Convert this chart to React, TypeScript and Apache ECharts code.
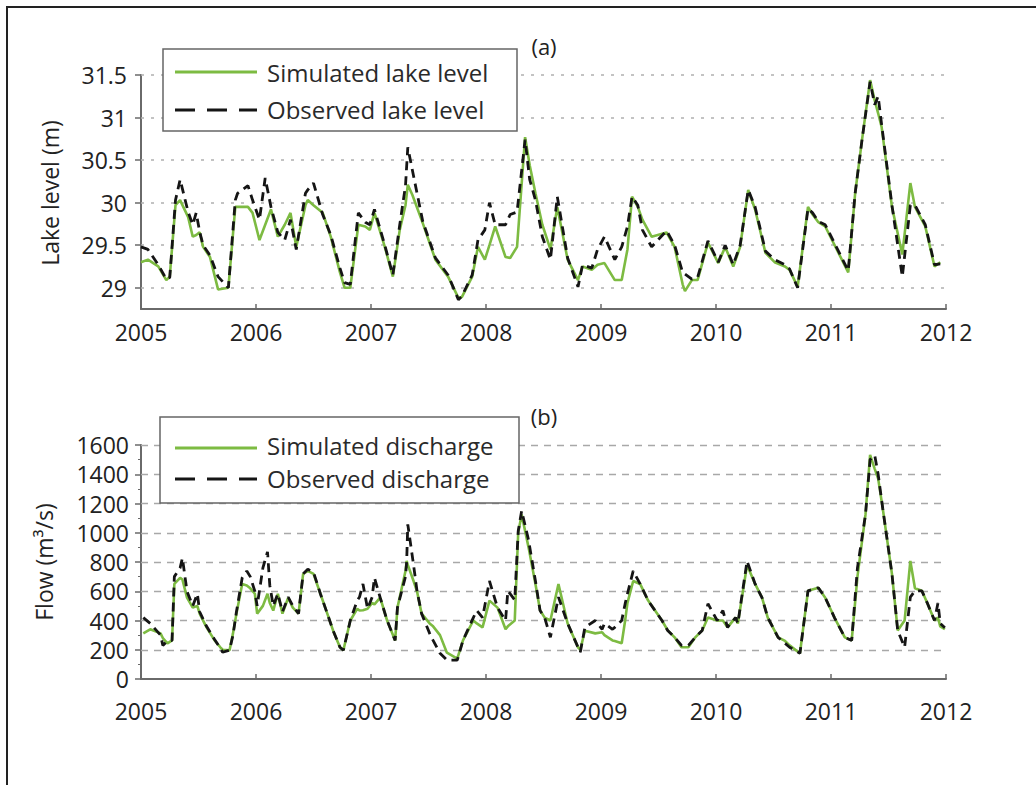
import React, { useEffect, useRef } from "react";
import * as echarts from "echarts";

// ---------- Panel (a): lake level ----------
const levelDates = [
  2005.0, 2005.06, 2005.15, 2005.22, 2005.25, 2005.3, 2005.34, 2005.41, 2005.45, 2005.48,
  2005.51, 2005.54, 2005.6, 2005.67, 2005.76, 2005.82, 2005.84, 2005.93, 2005.97, 2006.03,
  2006.08, 2006.13, 2006.19, 2006.25, 2006.3, 2006.35, 2006.43, 2006.45, 2006.5, 2006.58,
  2006.65, 2006.73, 2006.77, 2006.82, 2006.89, 2006.95, 2006.99, 2007.03, 2007.12, 2007.19,
  2007.25, 2007.3, 2007.32, 2007.36, 2007.45, 2007.56, 2007.67, 2007.76, 2007.79, 2007.88,
  2007.93, 2007.99, 2008.03, 2008.08, 2008.17, 2008.21, 2008.27, 2008.34, 2008.38, 2008.43,
  2008.49, 2008.56, 2008.62, 2008.71, 2008.8, 2008.84, 2008.92, 2008.97, 2009.03, 2009.12,
  2009.18, 2009.23, 2009.27, 2009.32, 2009.36, 2009.44, 2009.57, 2009.64, 2009.71, 2009.73,
  2009.79, 2009.84, 2009.93, 2010.02, 2010.08, 2010.15, 2010.21, 2010.28, 2010.34, 2010.43,
  2010.51, 2010.6, 2010.64, 2010.71, 2010.8, 2010.84, 2010.89, 2010.95, 2011.15, 2011.21,
  2011.27, 2011.34, 2011.38, 2011.41, 2011.44, 2011.53, 2011.62, 2011.69, 2011.73, 2011.82,
  2011.9, 2011.95,
];
const simLevel = [
  29.3, 29.33, 29.25, 29.09, 29.13, 29.97, 30.03, 29.83, 29.6, 29.62,
  29.65, 29.48, 29.36, 28.98, 29.0, 29.95, 29.95, 29.95, 29.88, 29.56,
  29.74, 29.92, 29.6, 29.74, 29.88, 29.48, 29.97, 30.03, 29.97, 29.88,
  29.6, 29.18, 29.0, 29.0, 29.74, 29.72, 29.68, 29.88, 29.48, 29.13,
  29.68, 29.97, 30.21, 30.09, 29.76, 29.33, 29.13, 28.88, 28.89, 29.13,
  29.48, 29.33, 29.5, 29.72, 29.36, 29.35, 29.48, 30.77, 30.44, 30.11,
  29.74, 29.45, 29.95, 29.33, 29.09, 29.25, 29.21, 29.27, 29.29, 29.09,
  29.09, 29.45, 30.07, 29.95, 29.8, 29.6, 29.65, 29.48, 29.04, 28.96,
  29.09, 29.09, 29.53, 29.29, 29.48, 29.25, 29.48, 30.15, 29.92, 29.41,
  29.3, 29.25, 29.21, 29.01, 29.95, 29.86, 29.77, 29.72, 29.18, 30.11,
  30.74, 31.44, 31.2, 31.05, 30.89, 29.95, 29.39, 30.23, 29.95, 29.72,
  29.25, 29.3,
];
const obsLevel = [
  29.48, 29.45, 29.27, 29.1, 29.12, 30.03, 30.27, 29.89, 29.74, 29.88,
  29.66, 29.5, 29.38, 29.13, 29.0, 30.03, 30.11, 30.2, 30.03, 29.8,
  30.29, 29.95, 29.65, 29.56, 29.8, 29.45, 30.11, 30.15, 30.23, 29.86,
  29.62, 29.23, 29.06, 29.04, 29.88, 29.77, 29.74, 29.92, 29.5, 29.15,
  29.74, 30.2, 30.65, 30.38, 29.78, 29.35, 29.15, 28.86, 28.9, 29.15,
  29.56, 29.68, 30.0, 29.74, 29.74, 29.86, 29.89, 30.74, 30.27, 30.03,
  29.6, 29.33, 30.07, 29.35, 29.01, 29.27, 29.23, 29.45, 29.6, 29.33,
  29.48, 29.72, 30.07, 29.97, 29.68, 29.48, 29.67, 29.5, 29.18, 29.16,
  29.1, 29.12, 29.55, 29.3, 29.5, 29.27, 29.5, 30.15, 29.95, 29.43,
  29.33, 29.27, 29.22, 29.0, 29.93, 29.88, 29.78, 29.74, 29.2, 30.11,
  30.74, 31.42, 31.15, 31.25, 30.92, 29.97, 29.13, 29.97, 29.97, 29.74,
  29.27, 29.28,
];
const levelTicks = [29, 29.5, 30, 30.5, 31, 31.5];

// ---------- Panel (b): discharge ----------
const flowDates = [
  2005.02, 2005.08, 2005.17, 2005.19, 2005.23, 2005.27, 2005.29, 2005.34, 2005.36, 2005.4,
  2005.45, 2005.49, 2005.51, 2005.57, 2005.64, 2005.69, 2005.71, 2005.77, 2005.8, 2005.83,
  2005.88, 2005.92, 2005.95, 2005.99, 2006.01, 2006.06, 2006.1, 2006.12, 2006.15, 2006.19,
  2006.23, 2006.28, 2006.32, 2006.37, 2006.41, 2006.45, 2006.5, 2006.56, 2006.62, 2006.67,
  2006.73, 2006.76, 2006.82, 2006.88, 2006.9, 2006.93, 2006.97, 2007.01, 2007.03, 2007.08,
  2007.14, 2007.21, 2007.23, 2007.3, 2007.31, 2007.32, 2007.37, 2007.4, 2007.44, 2007.51,
  2007.54, 2007.6, 2007.66, 2007.75, 2007.8, 2007.89, 2007.92, 2007.97, 2008.03, 2008.1,
  2008.17, 2008.19, 2008.25, 2008.28, 2008.31, 2008.37, 2008.43, 2008.47, 2008.51, 2008.56,
  2008.63, 2008.71, 2008.8, 2008.82, 2008.86, 2008.95, 2009.01, 2009.03, 2009.1, 2009.12,
  2009.18, 2009.21, 2009.23, 2009.28, 2009.34, 2009.41, 2009.47, 2009.53, 2009.58, 2009.64,
  2009.7, 2009.76, 2009.82, 2009.88, 2009.93, 2010.01, 2010.06, 2010.1, 2010.17, 2010.19,
  2010.27, 2010.34, 2010.4, 2010.45, 2010.54, 2010.6, 2010.64, 2010.73, 2010.8, 2010.89,
  2010.95, 2011.03, 2011.12, 2011.18, 2011.23, 2011.3, 2011.34, 2011.38, 2011.41, 2011.45,
  2011.53, 2011.58, 2011.64, 2011.69, 2011.73, 2011.79, 2011.84, 2011.9, 2011.93, 2011.95,
  2011.99,
];
const simFlow = [
  312, 340, 312, 280, 244, 264, 650, 692, 680, 556,
  488, 500, 447, 353, 264, 217, 200, 197, 312, 447,
  650, 640, 620, 583, 447, 500, 583, 520, 468, 583,
  447, 556, 488, 447, 719, 739, 719, 583, 447, 332,
  217, 197, 400, 480, 468, 470, 480, 520, 510, 556,
  400, 264, 488, 739, 807, 780, 670, 600, 447, 380,
  360, 300, 180, 140, 264, 400, 380, 353, 536, 488,
  340, 360, 400, 1000, 1125, 900, 650, 470, 420, 400,
  650, 380, 217, 200, 330, 312, 320, 300, 264, 260,
  244, 400, 520, 670, 650, 536, 468, 400, 332, 285,
  217, 217, 285, 332, 420, 400, 400, 353, 420, 380,
  780, 650, 556, 420, 285, 260, 230, 176, 603, 624,
  556, 420, 285, 264, 700, 1125, 1532, 1437, 1370, 1166,
  719, 332, 400, 807, 620, 603, 515, 400, 420, 360,
  340,
];
const obsFlow = [
  420, 380, 300, 230, 260, 264, 700, 760, 827, 600,
  500, 583, 460, 360, 270, 210, 183, 197, 300, 460,
  692, 739, 700, 600, 500, 760, 870, 640, 500, 583,
  460, 560, 500, 447, 719, 750, 730, 583, 447, 332,
  217, 197, 400, 536, 560, 650, 480, 560, 692, 556,
  400, 264, 488, 700, 800, 1057, 780, 603, 447, 312,
  264, 176, 129, 129, 264, 420, 468, 420, 670, 488,
  400, 603, 540, 1010, 1150, 950, 670, 468, 420, 285,
  560, 380, 217, 183, 353, 400, 340, 380, 340, 353,
  400, 515, 583, 739, 650, 536, 468, 400, 332, 285,
  230, 230, 285, 332, 515, 400, 468, 353, 420, 380,
  807, 650, 556, 420, 285, 244, 217, 176, 603, 624,
  556, 420, 285, 264, 760, 1125, 1500, 1530, 1400, 1166,
  719, 332, 217, 560, 603, 603, 515, 400, 520, 380,
  350,
];
const flowTicks = [0, 200, 400, 600, 800, 1000, 1200, 1400, 1600];
const yearTicks = [2005, 2006, 2007, 2008, 2009, 2010, 2011, 2012];

const GREEN = "#7dbb42";
const BLACK = "#151515";
const FONT = "Open Sans";
const AXIS = "#6a6a6a";
const TEXT = "#222222";

function pairs(xs: number[], ys: number[]) {
  return xs.map((x, i) => [x, ys[i]]);
}

function makeXAxis(gridIndex: number, margin: number) {
  return {
    type: "value",
    gridIndex,
    min: yearTicks[0],
    max: yearTicks[yearTicks.length - 1],
    interval: 1,
    axisLine: { show: true, onZero: false, lineStyle: { color: AXIS, width: 2 } },
    axisTick: { show: true, inside: true, length: 5, lineStyle: { color: AXIS, width: 1.5 } },
    axisLabel: {
      margin,
      fontSize: 23,
      color: TEXT,
      fontFamily: FONT,
      formatter: (v: number) => String(v),
    },
    splitLine: { show: false },
  };
}

export default function App() {
  const ref = useRef<HTMLDivElement>(null);

  useEffect(() => {
    document.body.style.margin = "0";
    const chart = echarts.init(ref.current as HTMLDivElement, null, { renderer: "svg" });

    const option: any = {
      animation: false,
      backgroundColor: "#ffffff",
      grid: [
        { left: 141, top: 75, width: 805, height: 234 },
        { left: 141, top: 445, width: 805, height: 234 },
      ],
      xAxis: [makeXAxis(0, 11), makeXAxis(1, 20)],
      yAxis: [
        {
          type: "value",
          gridIndex: 0,
          min: 28.75,
          max: 31.5,
          axisLine: { show: true, lineStyle: { color: AXIS, width: 2 } },
          axisTick: {
            show: true,
            length: 6,
            customValues: levelTicks,
            lineStyle: { color: AXIS, width: 1.5 },
          },
          axisLabel: {
            margin: 14,
            fontSize: 23,
            color: TEXT,
            fontFamily: FONT,
            customValues: levelTicks,
            formatter: (v: number) => String(v),
          },
          splitLine: { show: false },
        },
        {
          type: "value",
          gridIndex: 1,
          min: flowTicks[0],
          max: flowTicks[flowTicks.length - 1],
          interval: 200,
          axisLine: { show: true, lineStyle: { color: AXIS, width: 2 } },
          axisTick: { show: true, length: 6, lineStyle: { color: AXIS, width: 1.5 } },
          minorTick: { show: true, splitNumber: 2, length: 3, lineStyle: { color: AXIS } },
          axisLabel: {
            margin: 12,
            fontSize: 23,
            color: TEXT,
            fontFamily: FONT,
            formatter: (v: number) => String(v),
          },
          splitLine: { show: false },
        },
      ],
      series: [
        {
          name: "Simulated lake level",
          type: "line",
          xAxisIndex: 0,
          yAxisIndex: 0,
          data: pairs(levelDates, simLevel),
          symbol: "none",
          lineStyle: { color: GREEN, width: 2.6 },
          z: 3,
          markLine: {
            silent: true,
            symbol: "none",
            z: 1,
            label: { show: false },
            lineStyle: { color: "#b0b0b0", type: [3, 7], width: 1.6 },
            data: levelTicks.map((v) => ({ yAxis: v })),
          },
        },
        {
          name: "Observed lake level",
          type: "line",
          xAxisIndex: 0,
          yAxisIndex: 0,
          data: pairs(levelDates, obsLevel),
          symbol: "none",
          lineStyle: { color: BLACK, width: 2.8, type: [9, 6] },
          z: 4,
        },
        {
          name: "Simulated discharge",
          type: "line",
          xAxisIndex: 1,
          yAxisIndex: 1,
          data: pairs(flowDates, simFlow),
          symbol: "none",
          lineStyle: { color: GREEN, width: 2.6 },
          z: 3,
          markLine: {
            silent: true,
            symbol: "none",
            z: 1,
            label: { show: false },
            lineStyle: { color: "#a8a8a8", type: [7, 6], width: 1.4 },
            data: flowTicks.slice(1).map((v) => ({ yAxis: v })),
          },
        },
        {
          name: "Observed discharge",
          type: "line",
          xAxisIndex: 1,
          yAxisIndex: 1,
          data: pairs(flowDates, obsFlow),
          symbol: "none",
          lineStyle: { color: BLACK, width: 2.8, type: [9, 6] },
          z: 4,
        },
      ],
      graphic: [
        {
          type: "rect",
          z: 200,
          silent: true,
          shape: { x: 7, y: 7, width: 1100, height: 900 },
          style: { fill: "none", stroke: "#222", lineWidth: 2 },
        },
        {
          type: "text",
          z: 100,
          x: 50,
          y: 193,
          rotation: Math.PI / 2,
          style: {
            text: "Lake level (m)",
            fontSize: 23,
            fontFamily: FONT,
            fill: TEXT,
            align: "center",
            verticalAlign: "middle",
          },
        },
        {
          type: "text",
          z: 100,
          x: 44,
          y: 562,
          rotation: Math.PI / 2,
          style: {
            text: "Flow (m³/s)",
            fontSize: 23,
            fontFamily: FONT,
            fill: TEXT,
            align: "center",
            verticalAlign: "middle",
          },
        },
        {
          type: "text",
          z: 100,
          x: 544,
          y: 46,
          style: { text: "(a)", fontSize: 22, fontFamily: FONT, fill: TEXT, align: "center", verticalAlign: "middle" },
        },
        {
          type: "text",
          z: 100,
          x: 544,
          y: 416,
          style: { text: "(b)", fontSize: 22, fontFamily: FONT, fill: TEXT, align: "center", verticalAlign: "middle" },
        },
        {
          type: "rect",
          z: 100,
          shape: { x: 163, y: 49, width: 354, height: 82 },
          style: { fill: "#fff", stroke: "#666", lineWidth: 1.5 },
        },
        {
          type: "line",
          z: 101,
          shape: { x1: 175, y1: 72, x2: 257, y2: 72 },
          style: { stroke: GREEN, lineWidth: 3 },
        },
        {
          type: "line",
          z: 101,
          shape: { x1: 175, y1: 110, x2: 257, y2: 110 },
          style: { stroke: BLACK, lineWidth: 3, lineDash: [20, 12] },
        },
        {
          type: "text",
          z: 101,
          x: 267,
          y: 72,
          style: { text: "Simulated lake level", fontSize: 24, fontFamily: FONT, fill: "#2a2a2a", verticalAlign: "middle" },
        },
        {
          type: "text",
          z: 101,
          x: 267,
          y: 109,
          style: { text: "Observed lake level", fontSize: 24, fontFamily: FONT, fill: "#2a2a2a", verticalAlign: "middle" },
        },
        {
          type: "rect",
          z: 100,
          shape: { x: 160, y: 417, width: 359, height: 86 },
          style: { fill: "#fff", stroke: "#666", lineWidth: 1.5 },
        },
        {
          type: "line",
          z: 101,
          shape: { x1: 175, y1: 448, x2: 257, y2: 448 },
          style: { stroke: GREEN, lineWidth: 3 },
        },
        {
          type: "line",
          z: 101,
          shape: { x1: 175, y1: 479, x2: 257, y2: 479 },
          style: { stroke: BLACK, lineWidth: 3, lineDash: [20, 12] },
        },
        {
          type: "text",
          z: 101,
          x: 267,
          y: 445,
          style: { text: "Simulated discharge", fontSize: 24, fontFamily: FONT, fill: "#2a2a2a", verticalAlign: "middle" },
        },
        {
          type: "text",
          z: 101,
          x: 267,
          y: 478,
          style: { text: "Observed discharge", fontSize: 24, fontFamily: FONT, fill: "#2a2a2a", verticalAlign: "middle" },
        },
      ],
    };

    chart.setOption(option);
    return () => chart.dispose();
  }, []);

  return <div ref={ref} style={{ width: 1036, height: 785 }} />;
}
